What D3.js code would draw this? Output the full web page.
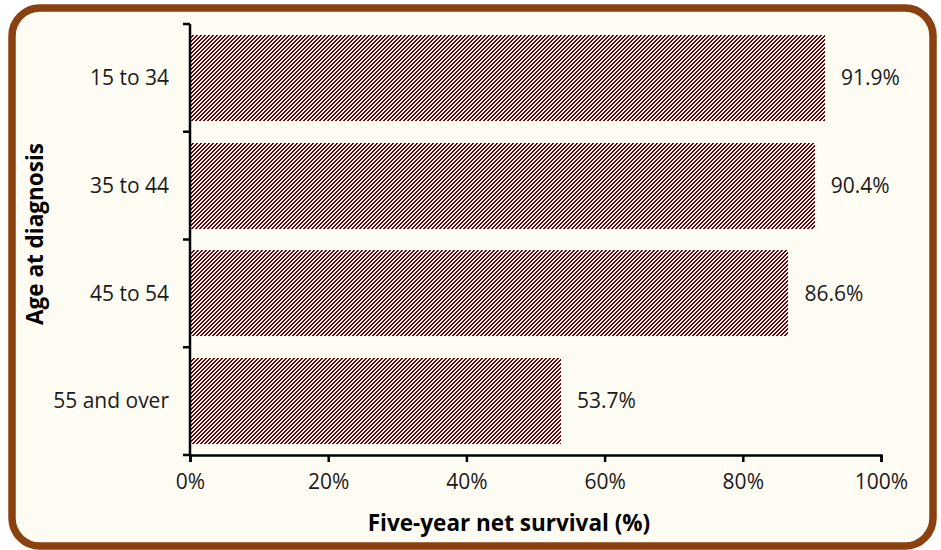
<!DOCTYPE html>
<html>
<head>
<meta charset="utf-8">
<script src="https://cdn.jsdelivr.net/npm/d3@7"></script>
<style>
html,body{margin:0;padding:0;background:#fff;}
svg{display:block;}
</style>
</head>
<body>
<svg id="chart" width="941" height="550"></svg>
<script>
const categories = ["15 to 34", "35 to 44", "45 to 54", "55 and over"];
const survival = [91.9, 90.4, 86.6, 53.7];
const xTicks = [0, 20, 40, 60, 80, 100];
const xTitle = "Five-year net survival (%)";
const yTitle = "Age at diagnosis";

const W = 941, H = 550;
const svg = d3.select("#chart");
const font = "'Open Sans', 'Noto Sans', sans-serif";

// frame
svg.append("rect").attr("x", 12).attr("y", 8).attr("width", 921).attr("height", 538)
  .attr("rx", 28).attr("ry", 28)
  .attr("fill", "#FFFCF4").attr("stroke", "#8B410F").attr("stroke-width", 7.5);

// pattern
const defs = svg.append("defs");
const pat = defs.append("pattern").attr("id", "diag").attr("patternUnits", "userSpaceOnUse")
  .attr("width", 4).attr("height", 4);
pat.append("rect").attr("width", 4).attr("height", 4).attr("fill", "#ffffff").attr("shape-rendering", "crispEdges");
[[0,3],[1,2],[2,1],[3,0],[1,3],[2,2],[3,1],[0,0]].forEach(([px,py]) => {
  pat.append("rect").attr("x", px).attr("y", py).attr("width", 1).attr("height", 1)
    .attr("fill", "#7A0000").attr("shape-rendering", "crispEdges");
});

const x = d3.scaleLinear().domain([0, 100]).range([190, 881]);
const y = d3.scaleBand().domain(categories).range([24, 455]).paddingInner(0.2).paddingOuter(0.1);

// bars
svg.append("g").selectAll("rect").data(categories).join("rect")
  .attr("x", x(0))
  .attr("y", d => y(d))
  .attr("width", (d, i) => x(survival[i]) - x(0))
  .attr("height", y.bandwidth())
  .attr("fill", "url(#diag)")
  .attr("shape-rendering", "crispEdges");

// value labels
svg.append("g").selectAll("text").data(categories).join("text")
  .attr("x", (d, i) => x(survival[i]) + 16)
  .attr("y", d => y(d) + y.bandwidth() / 2)
  .attr("dy", "0.35em")
  .attr("font-family", font).attr("font-size", 21).attr("fill", "#1a1a1a")
  .text((d, i) => survival[i].toFixed(1) + "%");

// x axis
const xAxis = d3.axisBottom(x).tickValues(xTicks).tickFormat(d => d + "%").tickSizeOuter(0).tickSize(7).tickPadding(12);
const gx = svg.append("g").attr("transform", `translate(0,${455})`).call(xAxis);
gx.select(".domain").attr("stroke", "#000").attr("stroke-width", 2.5);
gx.selectAll(".tick line").attr("stroke", "#000").attr("stroke-width", 2.5);
gx.selectAll(".tick text").attr("font-family", font).attr("font-size", 21).attr("fill", "#1a1a1a");

// y axis (line + boundary ticks)
const step = y.step();
const bounds = categories.map(c => y(c) - y.paddingOuter() * step).concat([y.range()[1]]);
const gy = svg.append("g");
gy.append("line").attr("x1", x(0)).attr("x2", x(0)).attr("y1", y.range()[0]).attr("y2", y.range()[1])
  .attr("stroke", "#000").attr("stroke-width", 2.5);
gy.selectAll("line.tk").data(bounds).join("line").attr("class", "tk")
  .attr("x1", x(0) - 7).attr("x2", x(0)).attr("y1", d => d).attr("y2", d => d)
  .attr("stroke", "#000").attr("stroke-width", 2.5);
gy.selectAll("text").data(categories).join("text")
  .attr("x", x(0) - 21)
  .attr("y", d => y(d) + y.bandwidth() / 2)
  .attr("dy", "0.35em")
  .attr("text-anchor", "end")
  .attr("font-family", font).attr("font-size", 21).attr("fill", "#1a1a1a")
  .text(d => d);

// titles
svg.append("text").attr("x", 509).attr("y", 531).attr("text-anchor", "middle")
  .attr("font-family", font).attr("font-weight", "bold").attr("font-size", 22.5).attr("fill", "#000")
  .text(xTitle);
svg.append("text").attr("transform", `translate(43,234) rotate(-90)`).attr("text-anchor", "middle")
  .attr("font-family", font).attr("font-weight", "bold").attr("font-size", 22.5).attr("fill", "#000")
  .text(yTitle);
</script>
</body>
</html>
